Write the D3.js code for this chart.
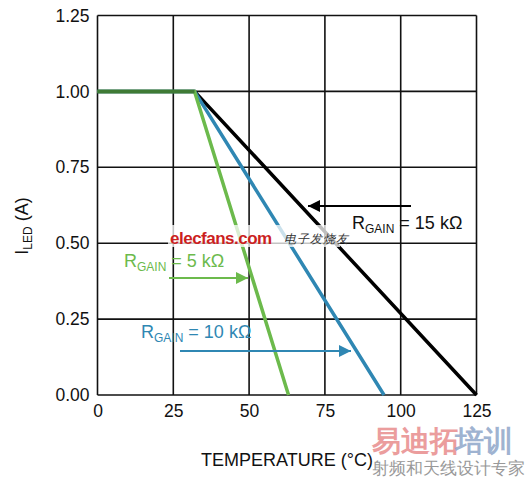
<!DOCTYPE html>
<html><head><meta charset="utf-8">
<script src="https://cdn.jsdelivr.net/npm/d3@7"></script>
<style>body{margin:0;background:#fff}svg{display:block}text{font-family:"Liberation Sans",Arial,sans-serif}</style>
</head><body><svg id="c" width="526" height="477"></svg>
<script>
const xTicks = [0, 25, 50, 75, 100, 125];
const yTicks = [0, 0.25, 0.5, 0.75, 1.0, 1.25];
const seriesNames = ["R15k", "R10k", "R5k"];
const temps15k = [0, 32, 125];
const iled15k = [1.0, 1.0, 0];
const temps10k = [0, 32, 94.5];
const iled10k = [1.0, 1.0, 0];
const temps5k = [0, 32, 63];
const iled5k = [1.0, 1.0, 0];
const colors = ["#000000", "#2f87b3", "#6cba4c"];

const svg = d3.select("#c");
const x = d3.scaleLinear().domain([0, 125]).range([97.5, 476.5]);
const y = d3.scaleLinear().domain([0, 1.25]).range([395, 15.5]);

// grid
svg.append("g").selectAll("line").data(xTicks).join("line")
  .attr("x1", d => x(d)).attr("x2", d => x(d)).attr("y1", y(0)).attr("y2", y(1.25))
  .attr("stroke", "#111").attr("stroke-width", 1.6);
svg.append("g").selectAll("line").data(yTicks).join("line")
  .attr("y1", d => y(d)).attr("y2", d => y(d)).attr("x1", x(0)).attr("x2", x(125))
  .attr("stroke", "#111").attr("stroke-width", 1.6);

// axes labels
const xAxis = d3.axisBottom(x).tickValues(xTicks).tickSize(0).tickPadding(10).tickFormat(d3.format("d"));
const gx = svg.append("g").attr("transform", `translate(0,${y(0)})`).call(xAxis);
gx.select(".domain").remove();
gx.selectAll("text").attr("font-size", 17.5).attr("fill", "#111").attr("font-family", "Liberation Sans, Arial, sans-serif");
const yAxis = d3.axisLeft(y).tickValues(yTicks).tickSize(0).tickPadding(8).tickFormat(d3.format(".2f"));
const gy = svg.append("g").attr("transform", `translate(${x(0)},0)`).call(yAxis);
gy.select(".domain").remove();
gy.selectAll("text").attr("font-size", 17.5).attr("fill", "#111").attr("font-family", "Liberation Sans, Arial, sans-serif");

// series
const series = [[temps15k, iled15k], [temps10k, iled10k], [temps5k, iled5k]];
const line = d3.line().x(d => x(d[0])).y(d => y(d[1]));
series.forEach((s, i) => {
  const pts = s[0].map((t, j) => [t, s[1][j]]);
  svg.append("path").attr("d", line(pts)).attr("fill", "none")
    .attr("stroke", colors[i]).attr("stroke-width", 3.5).attr("stroke-linejoin", "miter");
});
// darker overlap on flat segment
svg.append("path").attr("d", line([[0, 1.0], [32, 1.0]])).attr("fill", "none")
  .attr("stroke", "#3f7a35").attr("stroke-width", 3.5);

// watermark elecfans
svg.append("rect").attr("x", 168).attr("y", 225).attr("width", 172).attr("height", 22).attr("fill", "#fff").attr("opacity", 0.75);
svg.append("text").attr("x", 170).attr("y", 244).attr("font-size", 17).attr("font-weight", "bold")
  .attr("fill", "#cc1f1f").attr("font-family", "Liberation Sans, Arial, sans-serif").attr("letter-spacing", -0.5).text("elecfans.com");
svg.append("text").attr("x", 284).attr("y", 243).attr("font-size", 12).attr("font-style", "italic")
  .attr("fill", "#333").attr("font-family", "Noto Sans CJK SC").attr("letter-spacing", 1).text("电子发烧友");

// annotations
function arrow(x1, x2, yy, col) {
  svg.append("line").attr("x1", x1).attr("x2", x2).attr("y1", yy).attr("y2", yy).attr("stroke", col).attr("stroke-width", 2);
  const dir = x2 > x1 ? 1 : -1;
  svg.append("path").attr("d", `M${x2},${yy}L${x2 - dir * 12},${yy - 6}L${x2 - dir * 12},${yy + 6}Z`).attr("fill", col);
}
function label(xx, yy, val, col) {
  const t = svg.append("text").attr("x", xx).attr("y", yy).attr("font-size", 18).attr("fill", col);
  t.append("tspan").text("R");
  t.append("tspan").attr("font-size", 12).attr("dy", 4).text("GAIN");
  t.append("tspan").attr("dy", -4).text(" = " + val);
}
arrow(411, 308, 206, "#000");
label(352, 229, "15 kΩ", "#111");
arrow(169, 248, 278, "#6cba4c");
label(124, 267, "5 kΩ", "#6cba4c");
arrow(180, 351, 351, "#2f87b3");
label(141, 338, "10 kΩ", "#2f87b3");

// axis titles
svg.append("text").attr("x", 287).attr("y", 466).attr("text-anchor", "middle").attr("font-size", 18).attr("fill", "#111").text("TEMPERATURE (°C)");
const yl = svg.append("text").attr("transform", "translate(28,226) rotate(-90)").attr("text-anchor", "middle").attr("font-size", 18).attr("fill", "#111");
yl.append("tspan").text("I");
yl.append("tspan").attr("font-size", 12).attr("dy", 4).text("LED");
yl.append("tspan").attr("dy", -4).text(" (A)");

// bottom-right watermark
svg.append("text").attr("x", 372).attr("y", 451).attr("font-size", 29).attr("font-weight", "bold").attr("fill", "#e88c8c").attr("opacity", 0.85)
  .attr("font-family", "Noto Sans CJK SC").text("易迪拓");
svg.append("text").attr("x", 455).attr("y", 451).attr("font-size", 29).attr("font-weight", "bold").attr("fill", "#8fa6c9").attr("opacity", 0.85)
  .attr("font-family", "Noto Sans CJK SC").text("培训");
svg.append("text").attr("x", 372).attr("y", 474).attr("font-size", 17).attr("fill", "#999")
  .attr("font-family", "Noto Sans CJK SC").text("射频和天线设计专家");
</script></body></html>
